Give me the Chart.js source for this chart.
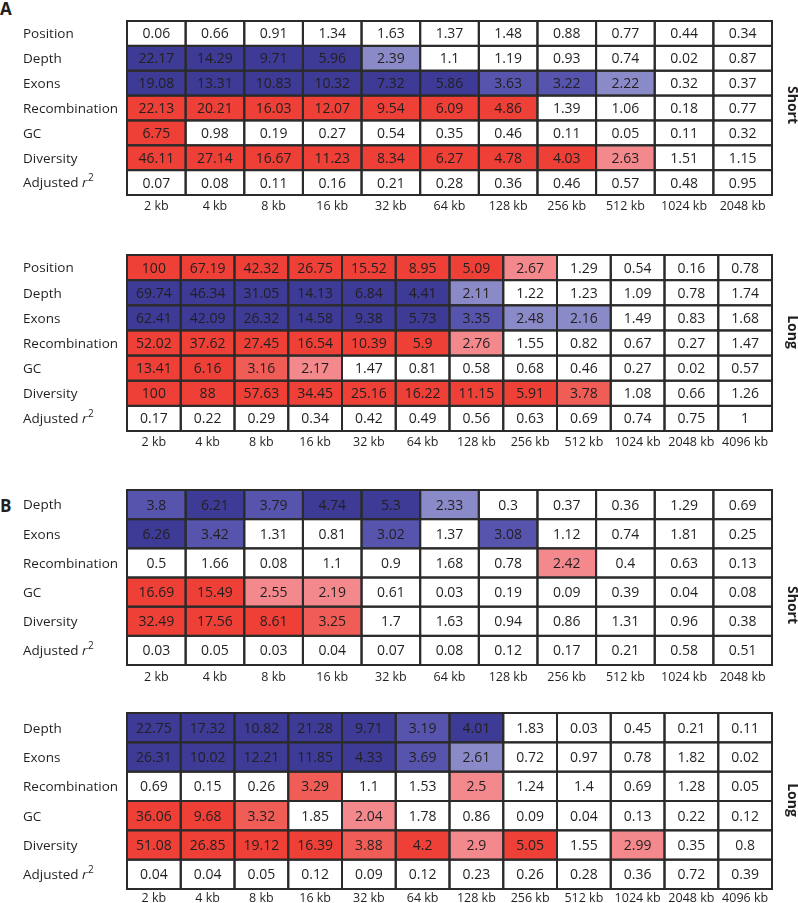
<!DOCTYPE html>
<html><head><meta charset="utf-8">
<script src="https://cdn.jsdelivr.net/npm/chart.js@4.4.1/dist/chart.umd.min.js"></script>
<style>
body{margin:0;background:#fff;width:798px;height:903px;position:relative;overflow:hidden;font-family:'Open Sans',sans-serif}
canvas{position:absolute;left:0}
.lt{position:absolute;left:0;font:bold 17px/17px 'Open Sans',sans-serif;color:#231f20}
</style></head><body>
<div class="lt" style="top:0px">A</div>
<div class="lt" style="top:497px">B</div>
<canvas id="c1" width="798" height="225" style="top:0px"></canvas>
<canvas id="c2" width="798" height="215" style="top:240px"></canvas>
<canvas id="c3" width="798" height="235" style="top:450px"></canvas>
<canvas id="c4" width="798" height="213" style="top:690px"></canvas>
<script>
// ---- categories ----
const colsShort = ['2 kb','4 kb','8 kb','16 kb','32 kb','64 kb','128 kb','256 kb','512 kb','1024 kb','2048 kb'];
const colsLong  = ['2 kb','4 kb','8 kb','16 kb','32 kb','64 kb','128 kb','256 kb','512 kb','1024 kb','2048 kb','4096 kb'];
const rowsA = ['Position','Depth','Exons','Recombination','GC','Diversity','Adjusted r2'];
const rowsB = ['Depth','Exons','Recombination','GC','Diversity','Adjusted r2'];
// direction of effect per row: 1 = red, -1 = blue, 0 = none
const dirA = [1,-1,-1,1,1,1,0];
const dirB = [-1,-1,1,1,1,0];

// ---- values ----
const aShort = [
  [0.06,0.66,0.91,1.34,1.63,1.37,1.48,0.88,0.77,0.44,0.34],
  [22.17,14.29,9.71,5.96,2.39,1.1,1.19,0.93,0.74,0.02,0.87],
  [19.08,13.31,10.83,10.32,7.32,5.86,3.63,3.22,2.22,0.32,0.37],
  [22.13,20.21,16.03,12.07,9.54,6.09,4.86,1.39,1.06,0.18,0.77],
  [6.75,0.98,0.19,0.27,0.54,0.35,0.46,0.11,0.05,0.11,0.32],
  [46.11,27.14,16.67,11.23,8.34,6.27,4.78,4.03,2.63,1.51,1.15],
  [0.07,0.08,0.11,0.16,0.21,0.28,0.36,0.46,0.57,0.48,0.95]
];
const aLong = [
  [100,67.19,42.32,26.75,15.52,8.95,5.09,2.67,1.29,0.54,0.16,0.78],
  [69.74,46.34,31.05,14.13,6.84,4.41,2.11,1.22,1.23,1.09,0.78,1.74],
  [62.41,42.09,26.32,14.58,9.38,5.73,3.35,2.48,2.16,1.49,0.83,1.68],
  [52.02,37.62,27.45,16.54,10.39,5.9,2.76,1.55,0.82,0.67,0.27,1.47],
  [13.41,6.16,3.16,2.17,1.47,0.81,0.58,0.68,0.46,0.27,0.02,0.57],
  [100,88,57.63,34.45,25.16,16.22,11.15,5.91,3.78,1.08,0.66,1.26],
  [0.17,0.22,0.29,0.34,0.42,0.49,0.56,0.63,0.69,0.74,0.75,1]
];
const bShort = [
  [3.8,6.21,3.79,4.74,5.3,2.33,0.3,0.37,0.36,1.29,0.69],
  [6.26,3.42,1.31,0.81,3.02,1.37,3.08,1.12,0.74,1.81,0.25],
  [0.5,1.66,0.08,1.1,0.9,1.68,0.78,2.42,0.4,0.63,0.13],
  [16.69,15.49,2.55,2.19,0.61,0.03,0.19,0.09,0.39,0.04,0.08],
  [32.49,17.56,8.61,3.25,1.7,1.63,0.94,0.86,1.31,0.96,0.38],
  [0.03,0.05,0.03,0.04,0.07,0.08,0.12,0.17,0.21,0.58,0.51]
];
const bLong = [
  [22.75,17.32,10.82,21.28,9.71,3.19,4.01,1.83,0.03,0.45,0.21,0.11],
  [26.31,10.02,12.21,11.85,4.33,3.69,2.61,0.72,0.97,0.78,1.82,0.02],
  [0.69,0.15,0.26,3.29,1.1,1.53,2.5,1.24,1.4,0.69,1.28,0.05],
  [36.06,9.68,3.32,1.85,2.04,1.78,0.86,0.09,0.04,0.13,0.22,0.12],
  [51.08,26.85,19.12,16.39,3.88,4.2,2.9,5.05,1.55,2.99,0.35,0.8],
  [0.04,0.04,0.05,0.12,0.09,0.12,0.23,0.26,0.28,0.36,0.72,0.39]
];

const RED = ['#f4898d','#f05d57','#ee4036'];
const BLUE = ['#8b8ac8','#5654ad','#3d3b95'];
function cellColor(v, d){
  if (!d || v < 2) return '#ffffff';
  const k = v >= 4 ? 2 : (v >= 3 ? 1 : 0);
  return d > 0 ? RED[k] : BLUE[k];
}
const TXT = '#231f20';

const heat = {
  id: 'heat',
  afterDatasetsDraw(chart, args, opts){
    const ctx = chart.ctx, a = chart.chartArea, xs = chart.scales.x, ys = chart.scales.y;
    const nx = xs.getLabels().length, ny = ys.getLabels().length;
    const cw = (a.right - a.left) / nx, ch = (a.bottom - a.top) / ny;
    const meta = chart.getDatasetMeta(0);
    const data = chart.data.datasets[0].data;
    ctx.save();
    meta.data.forEach((pt, i) => {
      ctx.fillStyle = cellColor(data[i].v, data[i].d);
      ctx.fillRect(pt.x - cw/2, pt.y - ch/2, cw, ch);
    });
    ctx.strokeStyle = '#2b2b2b'; ctx.lineWidth = 2;
    meta.data.forEach(pt => ctx.strokeRect(pt.x - cw/2, pt.y - ch/2, cw, ch));
    ctx.fillStyle = TXT; ctx.font = '14px "Open Sans"';
    ctx.textAlign = 'center'; ctx.textBaseline = 'middle';
    meta.data.forEach((pt, i) => ctx.fillText(String(data[i].v), pt.x, pt.y + 1));
    // row labels
    ctx.textAlign = 'left';
    ys.getLabels().forEach((lab, i) => {
      const y = ys.getPixelForValue(i) + 1;
      if (lab === 'Adjusted r2') {
        ctx.font = '13.5px "Open Sans"';
        const t = 'Adjusted ';
        ctx.fillText(t, 23, y);
        let x = 23 + ctx.measureText(t).width;
        ctx.font = 'italic 13.5px "Open Sans"';
        ctx.fillText('r', x, y);
        x += ctx.measureText('r').width + 0.5;
        ctx.font = '10px "Open Sans"';
        ctx.fillText('2', x, y - 5);
      } else {
        ctx.font = '13.5px "Open Sans"';
        ctx.fillText(lab, 23, y);
      }
    });
    // column labels
    ctx.textAlign = 'center'; ctx.font = '12.5px "Open Sans"';
    xs.getLabels().forEach((lab, i) => ctx.fillText(lab, xs.getPixelForValue(i), a.bottom + opts.tickGap));
    // side label
    ctx.translate(opts.sideX, opts.sideY);
    ctx.rotate(Math.PI / 2);
    ctx.font = 'bold 14px "Open Sans"';
    ctx.fillText(opts.side, 0, 0);
    ctx.restore();
  }
};

function makeChart(id, cols, rows, vals, dirs, pad, side, sideY, tickGap){
  const pts = [];
  rows.forEach((r, ri) => cols.forEach((c, ci) => pts.push({x: c, y: r, v: vals[ri][ci], d: dirs[ri]})));
  return new Chart(document.getElementById(id), {
    type: 'scatter',
    data: { datasets: [{ data: pts, pointRadius: 0, pointHoverRadius: 0 }] },
    options: {
      responsive: false, animation: false, events: [],
      layout: { padding: pad },
      plugins: { legend: {display: false}, tooltip: {enabled: false},
        heat: { side: side, sideX: 792, sideY: sideY, tickGap: tickGap } },
      scales: {
        x: { type: 'category', labels: cols, offset: true, display: false },
        y: { type: 'category', labels: rows, offset: true, display: false }
      }
    },
    plugins: [heat]
  });
}

makeChart('c1', colsShort, rowsA, aShort, dirA, {left:127, right:26, top:21, bottom:30}, 'Short', 105, 11);
makeChart('c2', colsLong,  rowsA, aLong,  dirA, {left:127, right:26, top:15, bottom:24}, 'Long', 92, 11);
makeChart('c3', colsShort, rowsB, bShort, dirB, {left:127, right:26, top:40, bottom:20}, 'Short', 155, 12);
makeChart('c4', colsLong,  rowsB, bLong,  dirB, {left:127, right:26, top:23, bottom:14}, 'Long', 110, 9.5);
</script>
</body></html>
